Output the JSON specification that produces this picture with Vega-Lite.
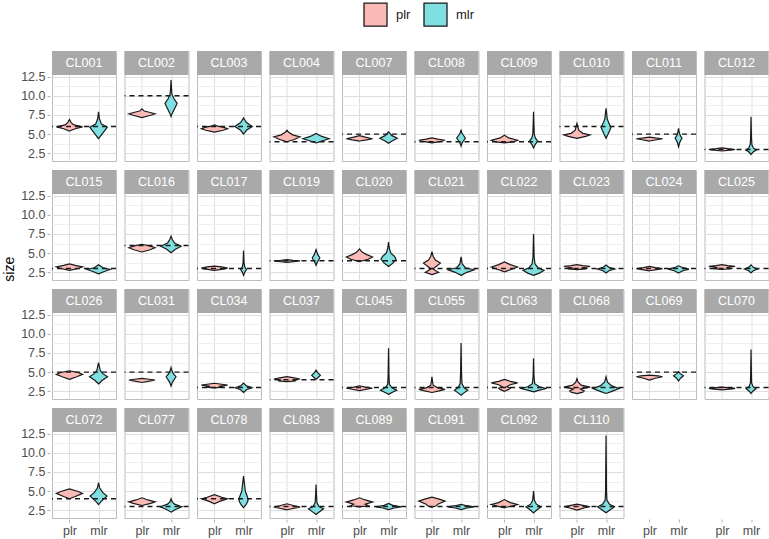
{
"$schema": "https://vega.github.io/schema/vega-lite/v6.json",
"padding": {"left": 2, "top": 2, "right": 0, "bottom": 2},
"title": {"text": "size", "orient": "left", "anchor": "middle", "fontSize": 14, "fontWeight": "normal", "color": "#000000", "font": "Liberation Sans", "offset": 4},
"data": {"values": [
{"c":"CL001","t":6},{"c":"CL002","t":10},{"c":"CL003","t":6},{"c":"CL004","t":4},{"c":"CL007","t":5},{"c":"CL008","t":4},{"c":"CL009","t":4},{"c":"CL010","t":6},{"c":"CL011","t":5},{"c":"CL012","t":3},
{"c":"CL015","t":3},{"c":"CL016","t":6},{"c":"CL017","t":3},{"c":"CL019","t":4},{"c":"CL020","t":4},{"c":"CL021","t":3},{"c":"CL022","t":3},{"c":"CL023","t":3},{"c":"CL024","t":3},{"c":"CL025","t":3},
{"c":"CL026","t":5},{"c":"CL031","t":5},{"c":"CL034","t":3},{"c":"CL037","t":4},{"c":"CL045","t":3},{"c":"CL055","t":3},{"c":"CL063","t":3},{"c":"CL068","t":3},{"c":"CL069","t":5},{"c":"CL070","t":3},
{"c":"CL072","t":4},{"c":"CL077","t":3},{"c":"CL078","t":4},{"c":"CL083","t":3},{"c":"CL089","t":3},{"c":"CL091","t":3},{"c":"CL092","t":3},{"c":"CL110","t":3},

{"c":"CL001","m":"plr","s":5.4,"w":0},{"c":"CL001","m":"plr","s":5.7,"w":0.2},{"c":"CL001","m":"plr","s":5.95,"w":0.45},{"c":"CL001","m":"plr","s":6.2,"w":0.15},{"c":"CL001","m":"plr","s":6.5,"w":0.06},{"c":"CL001","m":"plr","s":6.9,"w":0},{"c":"CL001","m":"plr","s":6.5,"w":-0.06},{"c":"CL001","m":"plr","s":6.2,"w":-0.15},{"c":"CL001","m":"plr","s":5.95,"w":-0.45},{"c":"CL001","m":"plr","s":5.7,"w":-0.2},
{"c":"CL001","m":"mlr","s":4.4,"w":0},{"c":"CL001","m":"mlr","s":5.0,"w":0.12},{"c":"CL001","m":"mlr","s":5.5,"w":0.22},{"c":"CL001","m":"mlr","s":5.9,"w":0.3},{"c":"CL001","m":"mlr","s":6.3,"w":0.1},{"c":"CL001","m":"mlr","s":7.0,"w":0.03},{"c":"CL001","m":"mlr","s":7.9,"w":0},{"c":"CL001","m":"mlr","s":7.0,"w":-0.03},{"c":"CL001","m":"mlr","s":6.3,"w":-0.1},{"c":"CL001","m":"mlr","s":5.9,"w":-0.3},{"c":"CL001","m":"mlr","s":5.5,"w":-0.22},{"c":"CL001","m":"mlr","s":5.0,"w":-0.12},

{"c":"CL002","m":"plr","s":7.15,"w":0},{"c":"CL002","m":"plr","s":7.45,"w":0.3},{"c":"CL002","m":"plr","s":7.65,"w":0.45},{"c":"CL002","m":"plr","s":7.85,"w":0.25},{"c":"CL002","m":"plr","s":8.0,"w":0.08},{"c":"CL002","m":"plr","s":8.3,"w":0},{"c":"CL002","m":"plr","s":8.0,"w":-0.08},{"c":"CL002","m":"plr","s":7.85,"w":-0.25},{"c":"CL002","m":"plr","s":7.65,"w":-0.45},{"c":"CL002","m":"plr","s":7.45,"w":-0.3},
{"c":"CL002","m":"mlr","s":7.3,"w":0},{"c":"CL002","m":"mlr","s":7.7,"w":0.04},{"c":"CL002","m":"mlr","s":8.3,"w":0.12},{"c":"CL002","m":"mlr","s":9.0,"w":0.21},{"c":"CL002","m":"mlr","s":9.6,"w":0.1},{"c":"CL002","m":"mlr","s":10.2,"w":0.03},{"c":"CL002","m":"mlr","s":11.0,"w":0.015},{"c":"CL002","m":"mlr","s":12.05,"w":0},{"c":"CL002","m":"mlr","s":11.0,"w":-0.015},{"c":"CL002","m":"mlr","s":10.2,"w":-0.03},{"c":"CL002","m":"mlr","s":9.6,"w":-0.1},{"c":"CL002","m":"mlr","s":9.0,"w":-0.21},{"c":"CL002","m":"mlr","s":8.3,"w":-0.12},{"c":"CL002","m":"mlr","s":7.7,"w":-0.04},

{"c":"CL003","m":"plr","s":5.25,"w":0},{"c":"CL003","m":"plr","s":5.5,"w":0.3},{"c":"CL003","m":"plr","s":5.7,"w":0.45},{"c":"CL003","m":"plr","s":5.9,"w":0.3},{"c":"CL003","m":"plr","s":6.05,"w":0.1},{"c":"CL003","m":"plr","s":6.2,"w":0},{"c":"CL003","m":"plr","s":6.05,"w":-0.1},{"c":"CL003","m":"plr","s":5.9,"w":-0.3},{"c":"CL003","m":"plr","s":5.7,"w":-0.45},{"c":"CL003","m":"plr","s":5.5,"w":-0.3},
{"c":"CL003","m":"mlr","s":5.0,"w":0},{"c":"CL003","m":"mlr","s":5.5,"w":0.1},{"c":"CL003","m":"mlr","s":6.0,"w":0.3},{"c":"CL003","m":"mlr","s":6.5,"w":0.1},{"c":"CL003","m":"mlr","s":7.1,"w":0},{"c":"CL003","m":"mlr","s":6.5,"w":-0.1},{"c":"CL003","m":"mlr","s":6.0,"w":-0.3},{"c":"CL003","m":"mlr","s":5.5,"w":-0.1},

{"c":"CL004","m":"plr","s":4.0,"w":0},{"c":"CL004","m":"plr","s":4.3,"w":0.25},{"c":"CL004","m":"plr","s":4.65,"w":0.45},{"c":"CL004","m":"plr","s":4.9,"w":0.2},{"c":"CL004","m":"plr","s":5.2,"w":0.07},{"c":"CL004","m":"plr","s":5.5,"w":0},{"c":"CL004","m":"plr","s":5.2,"w":-0.07},{"c":"CL004","m":"plr","s":4.9,"w":-0.2},{"c":"CL004","m":"plr","s":4.65,"w":-0.45},{"c":"CL004","m":"plr","s":4.3,"w":-0.25},
{"c":"CL004","m":"mlr","s":3.85,"w":0},{"c":"CL004","m":"mlr","s":4.1,"w":0.2},{"c":"CL004","m":"mlr","s":4.4,"w":0.45},{"c":"CL004","m":"mlr","s":4.7,"w":0.2},{"c":"CL004","m":"mlr","s":5.1,"w":0},{"c":"CL004","m":"mlr","s":4.7,"w":-0.2},{"c":"CL004","m":"mlr","s":4.4,"w":-0.45},{"c":"CL004","m":"mlr","s":4.1,"w":-0.2},

{"c":"CL007","m":"plr","s":4.1,"w":0},{"c":"CL007","m":"plr","s":4.25,"w":0.25},{"c":"CL007","m":"plr","s":4.4,"w":0.45},{"c":"CL007","m":"plr","s":4.6,"w":0.2},{"c":"CL007","m":"plr","s":4.8,"w":0},{"c":"CL007","m":"plr","s":4.6,"w":-0.2},{"c":"CL007","m":"plr","s":4.4,"w":-0.45},{"c":"CL007","m":"plr","s":4.25,"w":-0.25},
{"c":"CL007","m":"mlr","s":3.8,"w":0},{"c":"CL007","m":"mlr","s":4.1,"w":0.12},{"c":"CL007","m":"mlr","s":4.45,"w":0.3},{"c":"CL007","m":"mlr","s":4.8,"w":0.12},{"c":"CL007","m":"mlr","s":5.3,"w":0},{"c":"CL007","m":"mlr","s":4.8,"w":-0.12},{"c":"CL007","m":"mlr","s":4.45,"w":-0.3},{"c":"CL007","m":"mlr","s":4.1,"w":-0.12},

{"c":"CL008","m":"plr","s":3.85,"w":0},{"c":"CL008","m":"plr","s":4.05,"w":0.3},{"c":"CL008","m":"plr","s":4.2,"w":0.45},{"c":"CL008","m":"plr","s":4.35,"w":0.2},{"c":"CL008","m":"plr","s":4.5,"w":0},{"c":"CL008","m":"plr","s":4.35,"w":-0.2},{"c":"CL008","m":"plr","s":4.2,"w":-0.45},{"c":"CL008","m":"plr","s":4.05,"w":-0.3},
{"c":"CL008","m":"mlr","s":3.45,"w":0},{"c":"CL008","m":"mlr","s":3.9,"w":0.04},{"c":"CL008","m":"mlr","s":4.2,"w":0.1},{"c":"CL008","m":"mlr","s":4.5,"w":0.15},{"c":"CL008","m":"mlr","s":4.85,"w":0.08},{"c":"CL008","m":"mlr","s":5.2,"w":0.02},{"c":"CL008","m":"mlr","s":5.6,"w":0},{"c":"CL008","m":"mlr","s":5.2,"w":-0.02},{"c":"CL008","m":"mlr","s":4.85,"w":-0.08},{"c":"CL008","m":"mlr","s":4.5,"w":-0.15},{"c":"CL008","m":"mlr","s":4.2,"w":-0.1},{"c":"CL008","m":"mlr","s":3.9,"w":-0.04},

{"c":"CL009","m":"plr","s":3.85,"w":0},{"c":"CL009","m":"plr","s":4.0,"w":0.3},{"c":"CL009","m":"plr","s":4.2,"w":0.45},{"c":"CL009","m":"plr","s":4.5,"w":0.15},{"c":"CL009","m":"plr","s":4.85,"w":0},{"c":"CL009","m":"plr","s":4.5,"w":-0.15},{"c":"CL009","m":"plr","s":4.2,"w":-0.45},{"c":"CL009","m":"plr","s":4.0,"w":-0.3},
{"c":"CL009","m":"mlr","s":3.2,"w":0},{"c":"CL009","m":"mlr","s":3.6,"w":0.05},{"c":"CL009","m":"mlr","s":4.1,"w":0.14},{"c":"CL009","m":"mlr","s":4.5,"w":0.06},{"c":"CL009","m":"mlr","s":5.0,"w":0.025},{"c":"CL009","m":"mlr","s":6.0,"w":0.015},{"c":"CL009","m":"mlr","s":7.9,"w":0},{"c":"CL009","m":"mlr","s":6.0,"w":-0.015},{"c":"CL009","m":"mlr","s":5.0,"w":-0.025},{"c":"CL009","m":"mlr","s":4.5,"w":-0.06},{"c":"CL009","m":"mlr","s":4.1,"w":-0.14},{"c":"CL009","m":"mlr","s":3.6,"w":-0.05},

{"c":"CL010","m":"plr","s":4.45,"w":0},{"c":"CL010","m":"plr","s":4.7,"w":0.3},{"c":"CL010","m":"plr","s":4.9,"w":0.45},{"c":"CL010","m":"plr","s":5.1,"w":0.2},{"c":"CL010","m":"plr","s":5.5,"w":0.06},{"c":"CL010","m":"plr","s":6.0,"w":0.03},{"c":"CL010","m":"plr","s":6.4,"w":0},{"c":"CL010","m":"plr","s":6.0,"w":-0.03},{"c":"CL010","m":"plr","s":5.5,"w":-0.06},{"c":"CL010","m":"plr","s":5.1,"w":-0.2},{"c":"CL010","m":"plr","s":4.9,"w":-0.45},{"c":"CL010","m":"plr","s":4.7,"w":-0.3},
{"c":"CL010","m":"mlr","s":4.45,"w":0},{"c":"CL010","m":"mlr","s":5.0,"w":0.07},{"c":"CL010","m":"mlr","s":5.5,"w":0.13},{"c":"CL010","m":"mlr","s":5.9,"w":0.17},{"c":"CL010","m":"mlr","s":6.4,"w":0.1},{"c":"CL010","m":"mlr","s":7.0,"w":0.04},{"c":"CL010","m":"mlr","s":7.7,"w":0.02},{"c":"CL010","m":"mlr","s":8.35,"w":0},{"c":"CL010","m":"mlr","s":7.7,"w":-0.02},{"c":"CL010","m":"mlr","s":7.0,"w":-0.04},{"c":"CL010","m":"mlr","s":6.4,"w":-0.1},{"c":"CL010","m":"mlr","s":5.9,"w":-0.17},{"c":"CL010","m":"mlr","s":5.5,"w":-0.13},{"c":"CL010","m":"mlr","s":5.0,"w":-0.07},

{"c":"CL011","m":"plr","s":4.1,"w":0},{"c":"CL011","m":"plr","s":4.3,"w":0.3},{"c":"CL011","m":"plr","s":4.4,"w":0.45},{"c":"CL011","m":"plr","s":4.5,"w":0.2},{"c":"CL011","m":"plr","s":4.6,"w":0},{"c":"CL011","m":"plr","s":4.5,"w":-0.2},{"c":"CL011","m":"plr","s":4.4,"w":-0.45},{"c":"CL011","m":"plr","s":4.3,"w":-0.3},
{"c":"CL011","m":"mlr","s":3.35,"w":0},{"c":"CL011","m":"mlr","s":3.9,"w":0.04},{"c":"CL011","m":"mlr","s":4.3,"w":0.09},{"c":"CL011","m":"mlr","s":4.5,"w":0.12},{"c":"CL011","m":"mlr","s":4.8,"w":0.06},{"c":"CL011","m":"mlr","s":5.3,"w":0.02},{"c":"CL011","m":"mlr","s":5.75,"w":0},{"c":"CL011","m":"mlr","s":5.3,"w":-0.02},{"c":"CL011","m":"mlr","s":4.8,"w":-0.06},{"c":"CL011","m":"mlr","s":4.5,"w":-0.12},{"c":"CL011","m":"mlr","s":4.3,"w":-0.09},{"c":"CL011","m":"mlr","s":3.9,"w":-0.04},

{"c":"CL012","m":"plr","s":2.8,"w":0},{"c":"CL012","m":"plr","s":2.95,"w":0.35},{"c":"CL012","m":"plr","s":3.0,"w":0.45},{"c":"CL012","m":"plr","s":3.1,"w":0.2},{"c":"CL012","m":"plr","s":3.22,"w":0},{"c":"CL012","m":"plr","s":3.1,"w":-0.2},{"c":"CL012","m":"plr","s":3.0,"w":-0.45},{"c":"CL012","m":"plr","s":2.95,"w":-0.35},
{"c":"CL012","m":"mlr","s":2.35,"w":0},{"c":"CL012","m":"mlr","s":2.7,"w":0.08},{"c":"CL012","m":"mlr","s":2.92,"w":0.18},{"c":"CL012","m":"mlr","s":3.2,"w":0.08},{"c":"CL012","m":"mlr","s":3.6,"w":0.03},{"c":"CL012","m":"mlr","s":4.5,"w":0.015},{"c":"CL012","m":"mlr","s":7.25,"w":0},{"c":"CL012","m":"mlr","s":4.5,"w":-0.015},{"c":"CL012","m":"mlr","s":3.6,"w":-0.03},{"c":"CL012","m":"mlr","s":3.2,"w":-0.08},{"c":"CL012","m":"mlr","s":2.92,"w":-0.18},{"c":"CL012","m":"mlr","s":2.7,"w":-0.08},

{"c":"CL015","m":"plr","s":2.75,"w":0},{"c":"CL015","m":"plr","s":3.0,"w":0.3},{"c":"CL015","m":"plr","s":3.2,"w":0.45},{"c":"CL015","m":"plr","s":3.4,"w":0.2},{"c":"CL015","m":"plr","s":3.6,"w":0},{"c":"CL015","m":"plr","s":3.4,"w":-0.2},{"c":"CL015","m":"plr","s":3.2,"w":-0.45},{"c":"CL015","m":"plr","s":3.0,"w":-0.3},
{"c":"CL015","m":"mlr","s":2.3,"w":0},{"c":"CL015","m":"mlr","s":2.6,"w":0.2},{"c":"CL015","m":"mlr","s":2.87,"w":0.4},{"c":"CL015","m":"mlr","s":3.1,"w":0.15},{"c":"CL015","m":"mlr","s":3.5,"w":0},{"c":"CL015","m":"mlr","s":3.1,"w":-0.15},{"c":"CL015","m":"mlr","s":2.87,"w":-0.4},{"c":"CL015","m":"mlr","s":2.6,"w":-0.2},

{"c":"CL016","m":"plr","s":5.15,"w":0},{"c":"CL016","m":"plr","s":5.4,"w":0.25},{"c":"CL016","m":"plr","s":5.7,"w":0.45},{"c":"CL016","m":"plr","s":5.9,"w":0.3},{"c":"CL016","m":"plr","s":6.15,"w":0},{"c":"CL016","m":"plr","s":5.9,"w":-0.3},{"c":"CL016","m":"plr","s":5.7,"w":-0.45},{"c":"CL016","m":"plr","s":5.4,"w":-0.25},
{"c":"CL016","m":"mlr","s":5.05,"w":0},{"c":"CL016","m":"mlr","s":5.5,"w":0.15},{"c":"CL016","m":"mlr","s":5.9,"w":0.35},{"c":"CL016","m":"mlr","s":6.3,"w":0.12},{"c":"CL016","m":"mlr","s":6.8,"w":0.04},{"c":"CL016","m":"mlr","s":7.2,"w":0},{"c":"CL016","m":"mlr","s":6.8,"w":-0.04},{"c":"CL016","m":"mlr","s":6.3,"w":-0.12},{"c":"CL016","m":"mlr","s":5.9,"w":-0.35},{"c":"CL016","m":"mlr","s":5.5,"w":-0.15},

{"c":"CL017","m":"plr","s":2.75,"w":0},{"c":"CL017","m":"plr","s":2.95,"w":0.35},{"c":"CL017","m":"plr","s":3.05,"w":0.45},{"c":"CL017","m":"plr","s":3.2,"w":0.25},{"c":"CL017","m":"plr","s":3.3,"w":0},{"c":"CL017","m":"plr","s":3.2,"w":-0.25},{"c":"CL017","m":"plr","s":3.05,"w":-0.45},{"c":"CL017","m":"plr","s":2.95,"w":-0.35},
{"c":"CL017","m":"mlr","s":2.1,"w":0},{"c":"CL017","m":"mlr","s":2.5,"w":0.04},{"c":"CL017","m":"mlr","s":2.87,"w":0.1},{"c":"CL017","m":"mlr","s":3.2,"w":0.04},{"c":"CL017","m":"mlr","s":3.8,"w":0.015},{"c":"CL017","m":"mlr","s":5.35,"w":0},{"c":"CL017","m":"mlr","s":3.8,"w":-0.015},{"c":"CL017","m":"mlr","s":3.2,"w":-0.04},{"c":"CL017","m":"mlr","s":2.87,"w":-0.1},{"c":"CL017","m":"mlr","s":2.5,"w":-0.04},

{"c":"CL019","m":"plr","s":3.8,"w":0},{"c":"CL019","m":"plr","s":3.92,"w":0.3},{"c":"CL019","m":"plr","s":3.98,"w":0.45},{"c":"CL019","m":"plr","s":4.05,"w":0.2},{"c":"CL019","m":"plr","s":4.15,"w":0},{"c":"CL019","m":"plr","s":4.05,"w":-0.2},{"c":"CL019","m":"plr","s":3.98,"w":-0.45},{"c":"CL019","m":"plr","s":3.92,"w":-0.3},
{"c":"CL019","m":"mlr","s":3.4,"w":0},{"c":"CL019","m":"mlr","s":3.8,"w":0.04},{"c":"CL019","m":"mlr","s":4.1,"w":0.09},{"c":"CL019","m":"mlr","s":4.4,"w":0.13},{"c":"CL019","m":"mlr","s":4.8,"w":0.06},{"c":"CL019","m":"mlr","s":5.45,"w":0},{"c":"CL019","m":"mlr","s":4.8,"w":-0.06},{"c":"CL019","m":"mlr","s":4.4,"w":-0.13},{"c":"CL019","m":"mlr","s":4.1,"w":-0.09},{"c":"CL019","m":"mlr","s":3.8,"w":-0.04},

{"c":"CL020","m":"plr","s":3.9,"w":0},{"c":"CL020","m":"plr","s":4.2,"w":0.3},{"c":"CL020","m":"plr","s":4.5,"w":0.45},{"c":"CL020","m":"plr","s":4.8,"w":0.25},{"c":"CL020","m":"plr","s":5.1,"w":0.1},{"c":"CL020","m":"plr","s":5.55,"w":0},{"c":"CL020","m":"plr","s":5.1,"w":-0.1},{"c":"CL020","m":"plr","s":4.8,"w":-0.25},{"c":"CL020","m":"plr","s":4.5,"w":-0.45},{"c":"CL020","m":"plr","s":4.2,"w":-0.3},
{"c":"CL020","m":"mlr","s":3.25,"w":0},{"c":"CL020","m":"mlr","s":3.7,"w":0.15},{"c":"CL020","m":"mlr","s":4.2,"w":0.26},{"c":"CL020","m":"mlr","s":4.6,"w":0.2},{"c":"CL020","m":"mlr","s":5.0,"w":0.08},{"c":"CL020","m":"mlr","s":5.6,"w":0.03},{"c":"CL020","m":"mlr","s":6.45,"w":0},{"c":"CL020","m":"mlr","s":5.6,"w":-0.03},{"c":"CL020","m":"mlr","s":5.0,"w":-0.08},{"c":"CL020","m":"mlr","s":4.6,"w":-0.2},{"c":"CL020","m":"mlr","s":4.2,"w":-0.26},{"c":"CL020","m":"mlr","s":3.7,"w":-0.15},

{"c":"CL021","m":"plr","s":2.2,"w":0},{"c":"CL021","m":"plr","s":2.5,"w":0.23},{"c":"CL021","m":"plr","s":2.75,"w":0.12},{"c":"CL021","m":"plr","s":2.95,"w":0.04},{"c":"CL021","m":"plr","s":3.2,"w":0.12},{"c":"CL021","m":"plr","s":3.7,"w":0.29},{"c":"CL021","m":"plr","s":4.1,"w":0.12},{"c":"CL021","m":"plr","s":4.6,"w":0.04},{"c":"CL021","m":"plr","s":5.2,"w":0},{"c":"CL021","m":"plr","s":4.6,"w":-0.04},{"c":"CL021","m":"plr","s":4.1,"w":-0.12},{"c":"CL021","m":"plr","s":3.7,"w":-0.29},{"c":"CL021","m":"plr","s":3.2,"w":-0.12},{"c":"CL021","m":"plr","s":2.95,"w":-0.04},{"c":"CL021","m":"plr","s":2.75,"w":-0.12},{"c":"CL021","m":"plr","s":2.5,"w":-0.23},
{"c":"CL021","m":"mlr","s":2.1,"w":0},{"c":"CL021","m":"mlr","s":2.5,"w":0.2},{"c":"CL021","m":"mlr","s":2.83,"w":0.45},{"c":"CL021","m":"mlr","s":3.1,"w":0.15},{"c":"CL021","m":"mlr","s":3.6,"w":0.04},{"c":"CL021","m":"mlr","s":4.5,"w":0},{"c":"CL021","m":"mlr","s":3.6,"w":-0.04},{"c":"CL021","m":"mlr","s":3.1,"w":-0.15},{"c":"CL021","m":"mlr","s":2.83,"w":-0.45},{"c":"CL021","m":"mlr","s":2.5,"w":-0.2},

{"c":"CL022","m":"plr","s":2.55,"w":0},{"c":"CL022","m":"plr","s":2.9,"w":0.25},{"c":"CL022","m":"plr","s":3.2,"w":0.45},{"c":"CL022","m":"plr","s":3.5,"w":0.2},{"c":"CL022","m":"plr","s":3.85,"w":0},{"c":"CL022","m":"plr","s":3.5,"w":-0.2},{"c":"CL022","m":"plr","s":3.2,"w":-0.45},{"c":"CL022","m":"plr","s":2.9,"w":-0.25},
{"c":"CL022","m":"mlr","s":2.1,"w":0},{"c":"CL022","m":"mlr","s":2.4,"w":0.2},{"c":"CL022","m":"mlr","s":2.75,"w":0.36},{"c":"CL022","m":"mlr","s":3.1,"w":0.15},{"c":"CL022","m":"mlr","s":3.6,"w":0.05},{"c":"CL022","m":"mlr","s":4.5,"w":0.02},{"c":"CL022","m":"mlr","s":7.5,"w":0},{"c":"CL022","m":"mlr","s":4.5,"w":-0.02},{"c":"CL022","m":"mlr","s":3.6,"w":-0.05},{"c":"CL022","m":"mlr","s":3.1,"w":-0.15},{"c":"CL022","m":"mlr","s":2.75,"w":-0.36},{"c":"CL022","m":"mlr","s":2.4,"w":-0.2},

{"c":"CL023","m":"plr","s":2.85,"w":0},{"c":"CL023","m":"plr","s":2.95,"w":0.3},{"c":"CL023","m":"plr","s":3.05,"w":0.15},{"c":"CL023","m":"plr","s":3.2,"w":0.35},{"c":"CL023","m":"plr","s":3.28,"w":0.45},{"c":"CL023","m":"plr","s":3.38,"w":0.2},{"c":"CL023","m":"plr","s":3.5,"w":0},{"c":"CL023","m":"plr","s":3.38,"w":-0.2},{"c":"CL023","m":"plr","s":3.28,"w":-0.45},{"c":"CL023","m":"plr","s":3.2,"w":-0.35},{"c":"CL023","m":"plr","s":3.05,"w":-0.15},{"c":"CL023","m":"plr","s":2.95,"w":-0.3},
{"c":"CL023","m":"mlr","s":2.4,"w":0},{"c":"CL023","m":"mlr","s":2.7,"w":0.1},{"c":"CL023","m":"mlr","s":2.92,"w":0.3},{"c":"CL023","m":"mlr","s":3.15,"w":0.1},{"c":"CL023","m":"mlr","s":3.45,"w":0},{"c":"CL023","m":"mlr","s":3.15,"w":-0.1},{"c":"CL023","m":"mlr","s":2.92,"w":-0.3},{"c":"CL023","m":"mlr","s":2.7,"w":-0.1},

{"c":"CL024","m":"plr","s":2.7,"w":0},{"c":"CL024","m":"plr","s":2.88,"w":0.3},{"c":"CL024","m":"plr","s":2.98,"w":0.45},{"c":"CL024","m":"plr","s":3.1,"w":0.2},{"c":"CL024","m":"plr","s":3.27,"w":0},{"c":"CL024","m":"plr","s":3.1,"w":-0.2},{"c":"CL024","m":"plr","s":2.98,"w":-0.45},{"c":"CL024","m":"plr","s":2.88,"w":-0.3},
{"c":"CL024","m":"mlr","s":2.4,"w":0},{"c":"CL024","m":"mlr","s":2.7,"w":0.15},{"c":"CL024","m":"mlr","s":2.92,"w":0.36},{"c":"CL024","m":"mlr","s":3.1,"w":0.15},{"c":"CL024","m":"mlr","s":3.35,"w":0},{"c":"CL024","m":"mlr","s":3.1,"w":-0.15},{"c":"CL024","m":"mlr","s":2.92,"w":-0.36},{"c":"CL024","m":"mlr","s":2.7,"w":-0.15},

{"c":"CL025","m":"plr","s":2.87,"w":0},{"c":"CL025","m":"plr","s":2.97,"w":0.3},{"c":"CL025","m":"plr","s":3.07,"w":0.15},{"c":"CL025","m":"plr","s":3.2,"w":0.3},{"c":"CL025","m":"plr","s":3.27,"w":0.45},{"c":"CL025","m":"plr","s":3.37,"w":0.2},{"c":"CL025","m":"plr","s":3.5,"w":0},{"c":"CL025","m":"plr","s":3.37,"w":-0.2},{"c":"CL025","m":"plr","s":3.27,"w":-0.45},{"c":"CL025","m":"plr","s":3.2,"w":-0.3},{"c":"CL025","m":"plr","s":3.07,"w":-0.15},{"c":"CL025","m":"plr","s":2.97,"w":-0.3},
{"c":"CL025","m":"mlr","s":2.43,"w":0},{"c":"CL025","m":"mlr","s":2.7,"w":0.08},{"c":"CL025","m":"mlr","s":2.92,"w":0.23},{"c":"CL025","m":"mlr","s":3.15,"w":0.08},{"c":"CL025","m":"mlr","s":3.48,"w":0},{"c":"CL025","m":"mlr","s":3.15,"w":-0.08},{"c":"CL025","m":"mlr","s":2.92,"w":-0.23},{"c":"CL025","m":"mlr","s":2.7,"w":-0.08},

{"c":"CL026","m":"plr","s":4.05,"w":0},{"c":"CL026","m":"plr","s":4.4,"w":0.25},{"c":"CL026","m":"plr","s":4.7,"w":0.45},{"c":"CL026","m":"plr","s":4.95,"w":0.3},{"c":"CL026","m":"plr","s":5.15,"w":0},{"c":"CL026","m":"plr","s":4.95,"w":-0.3},{"c":"CL026","m":"plr","s":4.7,"w":-0.45},{"c":"CL026","m":"plr","s":4.4,"w":-0.25},
{"c":"CL026","m":"mlr","s":3.45,"w":0},{"c":"CL026","m":"mlr","s":3.9,"w":0.12},{"c":"CL026","m":"mlr","s":4.4,"w":0.31},{"c":"CL026","m":"mlr","s":4.8,"w":0.15},{"c":"CL026","m":"mlr","s":5.2,"w":0.06},{"c":"CL026","m":"mlr","s":5.7,"w":0.03},{"c":"CL026","m":"mlr","s":6.25,"w":0},{"c":"CL026","m":"mlr","s":5.7,"w":-0.03},{"c":"CL026","m":"mlr","s":5.2,"w":-0.06},{"c":"CL026","m":"mlr","s":4.8,"w":-0.15},{"c":"CL026","m":"mlr","s":4.4,"w":-0.31},{"c":"CL026","m":"mlr","s":3.9,"w":-0.12},

{"c":"CL031","m":"plr","s":3.65,"w":0},{"c":"CL031","m":"plr","s":3.85,"w":0.3},{"c":"CL031","m":"plr","s":3.97,"w":0.45},{"c":"CL031","m":"plr","s":4.07,"w":0.25},{"c":"CL031","m":"plr","s":4.18,"w":0},{"c":"CL031","m":"plr","s":4.07,"w":-0.25},{"c":"CL031","m":"plr","s":3.97,"w":-0.45},{"c":"CL031","m":"plr","s":3.85,"w":-0.3},
{"c":"CL031","m":"mlr","s":3.2,"w":0},{"c":"CL031","m":"mlr","s":3.7,"w":0.05},{"c":"CL031","m":"mlr","s":4.1,"w":0.12},{"c":"CL031","m":"mlr","s":4.4,"w":0.17},{"c":"CL031","m":"mlr","s":4.8,"w":0.08},{"c":"CL031","m":"mlr","s":5.2,"w":0.03},{"c":"CL031","m":"mlr","s":5.6,"w":0},{"c":"CL031","m":"mlr","s":5.2,"w":-0.03},{"c":"CL031","m":"mlr","s":4.8,"w":-0.08},{"c":"CL031","m":"mlr","s":4.4,"w":-0.17},{"c":"CL031","m":"mlr","s":4.1,"w":-0.12},{"c":"CL031","m":"mlr","s":3.7,"w":-0.05},

{"c":"CL034","m":"plr","s":2.95,"w":0},{"c":"CL034","m":"plr","s":3.05,"w":0.3},{"c":"CL034","m":"plr","s":3.15,"w":0.15},{"c":"CL034","m":"plr","s":3.3,"w":0.45},{"c":"CL034","m":"plr","s":3.42,"w":0.25},{"c":"CL034","m":"plr","s":3.55,"w":0},{"c":"CL034","m":"plr","s":3.42,"w":-0.25},{"c":"CL034","m":"plr","s":3.3,"w":-0.45},{"c":"CL034","m":"plr","s":3.15,"w":-0.15},{"c":"CL034","m":"plr","s":3.05,"w":-0.3},
{"c":"CL034","m":"mlr","s":2.35,"w":0},{"c":"CL034","m":"mlr","s":2.7,"w":0.1},{"c":"CL034","m":"mlr","s":2.97,"w":0.29},{"c":"CL034","m":"mlr","s":3.2,"w":0.1},{"c":"CL034","m":"mlr","s":3.57,"w":0},{"c":"CL034","m":"mlr","s":3.2,"w":-0.1},{"c":"CL034","m":"mlr","s":2.97,"w":-0.29},{"c":"CL034","m":"mlr","s":2.7,"w":-0.1},

{"c":"CL037","m":"plr","s":3.75,"w":0},{"c":"CL037","m":"plr","s":3.85,"w":0.3},{"c":"CL037","m":"plr","s":3.95,"w":0.2},{"c":"CL037","m":"plr","s":4.1,"w":0.45},{"c":"CL037","m":"plr","s":4.25,"w":0.25},{"c":"CL037","m":"plr","s":4.4,"w":0},{"c":"CL037","m":"plr","s":4.25,"w":-0.25},{"c":"CL037","m":"plr","s":4.1,"w":-0.45},{"c":"CL037","m":"plr","s":3.95,"w":-0.2},{"c":"CL037","m":"plr","s":3.85,"w":-0.3},
{"c":"CL037","m":"mlr","s":4.05,"w":0},{"c":"CL037","m":"mlr","s":4.3,"w":0.07},{"c":"CL037","m":"mlr","s":4.58,"w":0.15},{"c":"CL037","m":"mlr","s":4.9,"w":0.06},{"c":"CL037","m":"mlr","s":5.25,"w":0},{"c":"CL037","m":"mlr","s":4.9,"w":-0.06},{"c":"CL037","m":"mlr","s":4.58,"w":-0.15},{"c":"CL037","m":"mlr","s":4.3,"w":-0.07},

{"c":"CL045","m":"plr","s":2.6,"w":0},{"c":"CL045","m":"plr","s":2.8,"w":0.3},{"c":"CL045","m":"plr","s":2.9,"w":0.45},{"c":"CL045","m":"plr","s":3.05,"w":0.2},{"c":"CL045","m":"plr","s":3.22,"w":0},{"c":"CL045","m":"plr","s":3.05,"w":-0.2},{"c":"CL045","m":"plr","s":2.9,"w":-0.45},{"c":"CL045","m":"plr","s":2.8,"w":-0.3},
{"c":"CL045","m":"mlr","s":2.1,"w":0},{"c":"CL045","m":"mlr","s":2.4,"w":0.15},{"c":"CL045","m":"mlr","s":2.65,"w":0.28},{"c":"CL045","m":"mlr","s":2.95,"w":0.12},{"c":"CL045","m":"mlr","s":3.4,"w":0.03},{"c":"CL045","m":"mlr","s":4.5,"w":0.015},{"c":"CL045","m":"mlr","s":8.1,"w":0},{"c":"CL045","m":"mlr","s":4.5,"w":-0.015},{"c":"CL045","m":"mlr","s":3.4,"w":-0.03},{"c":"CL045","m":"mlr","s":2.95,"w":-0.12},{"c":"CL045","m":"mlr","s":2.65,"w":-0.28},{"c":"CL045","m":"mlr","s":2.4,"w":-0.15},

{"c":"CL055","m":"plr","s":2.35,"w":0},{"c":"CL055","m":"plr","s":2.55,"w":0.25},{"c":"CL055","m":"plr","s":2.75,"w":0.45},{"c":"CL055","m":"plr","s":2.95,"w":0.2},{"c":"CL055","m":"plr","s":3.3,"w":0.04},{"c":"CL055","m":"plr","s":3.8,"w":0.02},{"c":"CL055","m":"plr","s":4.4,"w":0},{"c":"CL055","m":"plr","s":3.8,"w":-0.02},{"c":"CL055","m":"plr","s":3.3,"w":-0.04},{"c":"CL055","m":"plr","s":2.95,"w":-0.2},{"c":"CL055","m":"plr","s":2.75,"w":-0.45},{"c":"CL055","m":"plr","s":2.55,"w":-0.25},
{"c":"CL055","m":"mlr","s":2.0,"w":0},{"c":"CL055","m":"mlr","s":2.3,"w":0.1},{"c":"CL055","m":"mlr","s":2.65,"w":0.23},{"c":"CL055","m":"mlr","s":3.0,"w":0.1},{"c":"CL055","m":"mlr","s":3.5,"w":0.03},{"c":"CL055","m":"mlr","s":5.0,"w":0.015},{"c":"CL055","m":"mlr","s":8.8,"w":0},{"c":"CL055","m":"mlr","s":5.0,"w":-0.015},{"c":"CL055","m":"mlr","s":3.5,"w":-0.03},{"c":"CL055","m":"mlr","s":3.0,"w":-0.1},{"c":"CL055","m":"mlr","s":2.65,"w":-0.23},{"c":"CL055","m":"mlr","s":2.3,"w":-0.1},

{"c":"CL063","m":"plr","s":2.5,"w":0},{"c":"CL063","m":"plr","s":2.75,"w":0.15},{"c":"CL063","m":"plr","s":2.9,"w":0.2},{"c":"CL063","m":"plr","s":3.1,"w":0.08},{"c":"CL063","m":"plr","s":3.35,"w":0.2},{"c":"CL063","m":"plr","s":3.6,"w":0.45},{"c":"CL063","m":"plr","s":3.8,"w":0.2},{"c":"CL063","m":"plr","s":4.05,"w":0},{"c":"CL063","m":"plr","s":3.8,"w":-0.2},{"c":"CL063","m":"plr","s":3.6,"w":-0.45},{"c":"CL063","m":"plr","s":3.35,"w":-0.2},{"c":"CL063","m":"plr","s":3.1,"w":-0.08},{"c":"CL063","m":"plr","s":2.9,"w":-0.2},{"c":"CL063","m":"plr","s":2.75,"w":-0.15},
{"c":"CL063","m":"mlr","s":2.43,"w":0},{"c":"CL063","m":"mlr","s":2.65,"w":0.2},{"c":"CL063","m":"mlr","s":2.87,"w":0.45},{"c":"CL063","m":"mlr","s":3.1,"w":0.2},{"c":"CL063","m":"mlr","s":3.5,"w":0.04},{"c":"CL063","m":"mlr","s":4.5,"w":0.015},{"c":"CL063","m":"mlr","s":6.8,"w":0},{"c":"CL063","m":"mlr","s":4.5,"w":-0.015},{"c":"CL063","m":"mlr","s":3.5,"w":-0.04},{"c":"CL063","m":"mlr","s":3.1,"w":-0.2},{"c":"CL063","m":"mlr","s":2.87,"w":-0.45},{"c":"CL063","m":"mlr","s":2.65,"w":-0.2},

{"c":"CL068","m":"plr","s":2.2,"w":0},{"c":"CL068","m":"plr","s":2.4,"w":0.2},{"c":"CL068","m":"plr","s":2.55,"w":0.25},{"c":"CL068","m":"plr","s":2.8,"w":0.12},{"c":"CL068","m":"plr","s":3.05,"w":0.45},{"c":"CL068","m":"plr","s":3.3,"w":0.15},{"c":"CL068","m":"plr","s":3.7,"w":0.04},{"c":"CL068","m":"plr","s":4.15,"w":0},{"c":"CL068","m":"plr","s":3.7,"w":-0.04},{"c":"CL068","m":"plr","s":3.3,"w":-0.15},{"c":"CL068","m":"plr","s":3.05,"w":-0.45},{"c":"CL068","m":"plr","s":2.8,"w":-0.12},{"c":"CL068","m":"plr","s":2.55,"w":-0.25},{"c":"CL068","m":"plr","s":2.4,"w":-0.2},
{"c":"CL068","m":"mlr","s":2.22,"w":0},{"c":"CL068","m":"mlr","s":2.5,"w":0.2},{"c":"CL068","m":"mlr","s":2.87,"w":0.45},{"c":"CL068","m":"mlr","s":3.2,"w":0.2},{"c":"CL068","m":"mlr","s":3.7,"w":0.05},{"c":"CL068","m":"mlr","s":4.4,"w":0},{"c":"CL068","m":"mlr","s":3.7,"w":-0.05},{"c":"CL068","m":"mlr","s":3.2,"w":-0.2},{"c":"CL068","m":"mlr","s":2.87,"w":-0.45},{"c":"CL068","m":"mlr","s":2.5,"w":-0.2},

{"c":"CL069","m":"plr","s":3.95,"w":0},{"c":"CL069","m":"plr","s":4.2,"w":0.2},{"c":"CL069","m":"plr","s":4.4,"w":0.45},{"c":"CL069","m":"plr","s":4.5,"w":0.3},{"c":"CL069","m":"plr","s":4.6,"w":0},{"c":"CL069","m":"plr","s":4.5,"w":-0.3},{"c":"CL069","m":"plr","s":4.4,"w":-0.45},{"c":"CL069","m":"plr","s":4.2,"w":-0.2},
{"c":"CL069","m":"mlr","s":3.85,"w":0},{"c":"CL069","m":"mlr","s":4.2,"w":0.07},{"c":"CL069","m":"mlr","s":4.52,"w":0.17},{"c":"CL069","m":"mlr","s":4.8,"w":0.06},{"c":"CL069","m":"mlr","s":5.05,"w":0},{"c":"CL069","m":"mlr","s":4.8,"w":-0.06},{"c":"CL069","m":"mlr","s":4.52,"w":-0.17},{"c":"CL069","m":"mlr","s":4.2,"w":-0.07},

{"c":"CL070","m":"plr","s":2.7,"w":0},{"c":"CL070","m":"plr","s":2.82,"w":0.35},{"c":"CL070","m":"plr","s":2.88,"w":0.45},{"c":"CL070","m":"plr","s":2.95,"w":0.3},{"c":"CL070","m":"plr","s":3.05,"w":0},{"c":"CL070","m":"plr","s":2.95,"w":-0.3},{"c":"CL070","m":"plr","s":2.88,"w":-0.45},{"c":"CL070","m":"plr","s":2.82,"w":-0.35},
{"c":"CL070","m":"mlr","s":2.22,"w":0},{"c":"CL070","m":"mlr","s":2.55,"w":0.07},{"c":"CL070","m":"mlr","s":2.83,"w":0.17},{"c":"CL070","m":"mlr","s":3.1,"w":0.07},{"c":"CL070","m":"mlr","s":3.6,"w":0.02},{"c":"CL070","m":"mlr","s":5.0,"w":0.012},{"c":"CL070","m":"mlr","s":7.95,"w":0},{"c":"CL070","m":"mlr","s":5.0,"w":-0.012},{"c":"CL070","m":"mlr","s":3.6,"w":-0.02},{"c":"CL070","m":"mlr","s":3.1,"w":-0.07},{"c":"CL070","m":"mlr","s":2.83,"w":-0.17},{"c":"CL070","m":"mlr","s":2.55,"w":-0.07},

{"c":"CL072","m":"plr","s":4.0,"w":0},{"c":"CL072","m":"plr","s":4.3,"w":0.2},{"c":"CL072","m":"plr","s":4.7,"w":0.45},{"c":"CL072","m":"plr","s":4.95,"w":0.3},{"c":"CL072","m":"plr","s":5.3,"w":0},{"c":"CL072","m":"plr","s":4.95,"w":-0.3},{"c":"CL072","m":"plr","s":4.7,"w":-0.45},{"c":"CL072","m":"plr","s":4.3,"w":-0.2},
{"c":"CL072","m":"mlr","s":3.25,"w":0},{"c":"CL072","m":"mlr","s":3.7,"w":0.1},{"c":"CL072","m":"mlr","s":4.1,"w":0.22},{"c":"CL072","m":"mlr","s":4.35,"w":0.29},{"c":"CL072","m":"mlr","s":4.8,"w":0.15},{"c":"CL072","m":"mlr","s":5.4,"w":0.04},{"c":"CL072","m":"mlr","s":6.1,"w":0},{"c":"CL072","m":"mlr","s":5.4,"w":-0.04},{"c":"CL072","m":"mlr","s":4.8,"w":-0.15},{"c":"CL072","m":"mlr","s":4.35,"w":-0.29},{"c":"CL072","m":"mlr","s":4.1,"w":-0.22},{"c":"CL072","m":"mlr","s":3.7,"w":-0.1},

{"c":"CL077","m":"plr","s":3.13,"w":0},{"c":"CL077","m":"plr","s":3.4,"w":0.3},{"c":"CL077","m":"plr","s":3.6,"w":0.45},{"c":"CL077","m":"plr","s":3.85,"w":0.2},{"c":"CL077","m":"plr","s":4.13,"w":0},{"c":"CL077","m":"plr","s":3.85,"w":-0.2},{"c":"CL077","m":"plr","s":3.6,"w":-0.45},{"c":"CL077","m":"plr","s":3.4,"w":-0.3},
{"c":"CL077","m":"mlr","s":2.26,"w":0},{"c":"CL077","m":"mlr","s":2.6,"w":0.15},{"c":"CL077","m":"mlr","s":2.96,"w":0.37},{"c":"CL077","m":"mlr","s":3.3,"w":0.12},{"c":"CL077","m":"mlr","s":3.6,"w":0.04},{"c":"CL077","m":"mlr","s":4.0,"w":0},{"c":"CL077","m":"mlr","s":3.6,"w":-0.04},{"c":"CL077","m":"mlr","s":3.3,"w":-0.12},{"c":"CL077","m":"mlr","s":2.96,"w":-0.37},{"c":"CL077","m":"mlr","s":2.6,"w":-0.15},

{"c":"CL078","m":"plr","s":3.35,"w":0},{"c":"CL078","m":"plr","s":3.7,"w":0.2},{"c":"CL078","m":"plr","s":4.0,"w":0.45},{"c":"CL078","m":"plr","s":4.2,"w":0.25},{"c":"CL078","m":"plr","s":4.55,"w":0},{"c":"CL078","m":"plr","s":4.2,"w":-0.25},{"c":"CL078","m":"plr","s":4.0,"w":-0.45},{"c":"CL078","m":"plr","s":3.7,"w":-0.2},
{"c":"CL078","m":"mlr","s":2.85,"w":0},{"c":"CL078","m":"mlr","s":3.2,"w":0.08},{"c":"CL078","m":"mlr","s":3.6,"w":0.14},{"c":"CL078","m":"mlr","s":3.95,"w":0.16},{"c":"CL078","m":"mlr","s":4.4,"w":0.12},{"c":"CL078","m":"mlr","s":5.0,"w":0.06},{"c":"CL078","m":"mlr","s":6.0,"w":0.03},{"c":"CL078","m":"mlr","s":6.95,"w":0},{"c":"CL078","m":"mlr","s":6.0,"w":-0.03},{"c":"CL078","m":"mlr","s":5.0,"w":-0.06},{"c":"CL078","m":"mlr","s":4.4,"w":-0.12},{"c":"CL078","m":"mlr","s":3.95,"w":-0.16},{"c":"CL078","m":"mlr","s":3.6,"w":-0.14},{"c":"CL078","m":"mlr","s":3.2,"w":-0.08},

{"c":"CL083","m":"plr","s":2.57,"w":0},{"c":"CL083","m":"plr","s":2.8,"w":0.3},{"c":"CL083","m":"plr","s":2.92,"w":0.45},{"c":"CL083","m":"plr","s":3.1,"w":0.25},{"c":"CL083","m":"plr","s":3.35,"w":0},{"c":"CL083","m":"plr","s":3.1,"w":-0.25},{"c":"CL083","m":"plr","s":2.92,"w":-0.45},{"c":"CL083","m":"plr","s":2.8,"w":-0.3},
{"c":"CL083","m":"mlr","s":1.96,"w":0},{"c":"CL083","m":"mlr","s":2.3,"w":0.12},{"c":"CL083","m":"mlr","s":2.7,"w":0.26},{"c":"CL083","m":"mlr","s":3.0,"w":0.1},{"c":"CL083","m":"mlr","s":3.5,"w":0.03},{"c":"CL083","m":"mlr","s":4.5,"w":0.015},{"c":"CL083","m":"mlr","s":5.85,"w":0},{"c":"CL083","m":"mlr","s":4.5,"w":-0.015},{"c":"CL083","m":"mlr","s":3.5,"w":-0.03},{"c":"CL083","m":"mlr","s":3.0,"w":-0.1},{"c":"CL083","m":"mlr","s":2.7,"w":-0.26},{"c":"CL083","m":"mlr","s":2.3,"w":-0.12},

{"c":"CL089","m":"plr","s":2.95,"w":0},{"c":"CL089","m":"plr","s":3.1,"w":0.3},{"c":"CL089","m":"plr","s":3.3,"w":0.2},{"c":"CL089","m":"plr","s":3.57,"w":0.45},{"c":"CL089","m":"plr","s":3.85,"w":0.2},{"c":"CL089","m":"plr","s":4.13,"w":0},{"c":"CL089","m":"plr","s":3.85,"w":-0.2},{"c":"CL089","m":"plr","s":3.57,"w":-0.45},{"c":"CL089","m":"plr","s":3.3,"w":-0.2},{"c":"CL089","m":"plr","s":3.1,"w":-0.3},
{"c":"CL089","m":"mlr","s":2.6,"w":0},{"c":"CL089","m":"mlr","s":2.8,"w":0.2},{"c":"CL089","m":"mlr","s":2.96,"w":0.43},{"c":"CL089","m":"mlr","s":3.15,"w":0.15},{"c":"CL089","m":"mlr","s":3.4,"w":0},{"c":"CL089","m":"mlr","s":3.15,"w":-0.15},{"c":"CL089","m":"mlr","s":2.96,"w":-0.43},{"c":"CL089","m":"mlr","s":2.8,"w":-0.2},

{"c":"CL091","m":"plr","s":2.9,"w":0},{"c":"CL091","m":"plr","s":3.1,"w":0.15},{"c":"CL091","m":"plr","s":3.3,"w":0.2},{"c":"CL091","m":"plr","s":3.7,"w":0.45},{"c":"CL091","m":"plr","s":3.95,"w":0.25},{"c":"CL091","m":"plr","s":4.22,"w":0},{"c":"CL091","m":"plr","s":3.95,"w":-0.25},{"c":"CL091","m":"plr","s":3.7,"w":-0.45},{"c":"CL091","m":"plr","s":3.3,"w":-0.2},{"c":"CL091","m":"plr","s":3.1,"w":-0.15},
{"c":"CL091","m":"mlr","s":2.6,"w":0},{"c":"CL091","m":"mlr","s":2.8,"w":0.2},{"c":"CL091","m":"mlr","s":2.96,"w":0.45},{"c":"CL091","m":"mlr","s":3.1,"w":0.2},{"c":"CL091","m":"mlr","s":3.28,"w":0},{"c":"CL091","m":"mlr","s":3.1,"w":-0.2},{"c":"CL091","m":"mlr","s":2.96,"w":-0.45},{"c":"CL091","m":"mlr","s":2.8,"w":-0.2},

{"c":"CL092","m":"plr","s":2.83,"w":0},{"c":"CL092","m":"plr","s":3.05,"w":0.25},{"c":"CL092","m":"plr","s":3.26,"w":0.45},{"c":"CL092","m":"plr","s":3.5,"w":0.2},{"c":"CL092","m":"plr","s":3.9,"w":0},{"c":"CL092","m":"plr","s":3.5,"w":-0.2},{"c":"CL092","m":"plr","s":3.26,"w":-0.45},{"c":"CL092","m":"plr","s":3.05,"w":-0.25},
{"c":"CL092","m":"mlr","s":2.17,"w":0},{"c":"CL092","m":"mlr","s":2.5,"w":0.1},{"c":"CL092","m":"mlr","s":2.96,"w":0.26},{"c":"CL092","m":"mlr","s":3.3,"w":0.1},{"c":"CL092","m":"mlr","s":3.8,"w":0.03},{"c":"CL092","m":"mlr","s":5.0,"w":0},{"c":"CL092","m":"mlr","s":3.8,"w":-0.03},{"c":"CL092","m":"mlr","s":3.3,"w":-0.1},{"c":"CL092","m":"mlr","s":2.96,"w":-0.26},{"c":"CL092","m":"mlr","s":2.5,"w":-0.1},

{"c":"CL110","m":"plr","s":2.52,"w":0},{"c":"CL110","m":"plr","s":2.8,"w":0.25},{"c":"CL110","m":"plr","s":2.96,"w":0.45},{"c":"CL110","m":"plr","s":3.1,"w":0.25},{"c":"CL110","m":"plr","s":3.3,"w":0},{"c":"CL110","m":"plr","s":3.1,"w":-0.25},{"c":"CL110","m":"plr","s":2.96,"w":-0.45},{"c":"CL110","m":"plr","s":2.8,"w":-0.25},
{"c":"CL110","m":"mlr","s":2.17,"w":0},{"c":"CL110","m":"mlr","s":2.5,"w":0.12},{"c":"CL110","m":"mlr","s":2.96,"w":0.29},{"c":"CL110","m":"mlr","s":3.3,"w":0.12},{"c":"CL110","m":"mlr","s":3.8,"w":0.03},{"c":"CL110","m":"mlr","s":5.0,"w":0.015},{"c":"CL110","m":"mlr","s":8.0,"w":0.01},{"c":"CL110","m":"mlr","s":12.25,"w":0},{"c":"CL110","m":"mlr","s":8.0,"w":-0.01},{"c":"CL110","m":"mlr","s":5.0,"w":-0.015},{"c":"CL110","m":"mlr","s":3.8,"w":-0.03},{"c":"CL110","m":"mlr","s":3.3,"w":-0.12},{"c":"CL110","m":"mlr","s":2.96,"w":-0.29},{"c":"CL110","m":"mlr","s":2.5,"w":-0.12}
]},
"facet": {"field": "c", "type": "nominal", "header": {"title": null, "labels": false, "labelExpr": "''", "labelFontSize": 0, "labelPadding": 0}},
"columns": 10,
"spacing": {"row": 7, "column": 4.5},
"spec": {
  "width": 64,
  "height": 110,
  "layer": [
    {
      "transform": [{"filter": "isValid(datum.t)"}],
      "mark": {"type": "rect", "fill": "#A9A9A9"},
      "encoding": {
        "y": {"datum": 12.69, "type": "quantitative"},
        "y2": {"datum": 15.82}
      }
    },
    {
      "transform": [{"filter": "isValid(datum.t)"}],
      "mark": {"type": "text", "color": "#FFFFFF", "fontSize": 12.5, "font": "Liberation Sans", "baseline": "middle", "align": "center"},
      "encoding": {
        "y": {"datum": 14.25, "type": "quantitative"},
        "text": {"field": "c", "type": "nominal"}
      }
    },
    {
      "transform": [{"filter": "datum.m === 'plr'"}],
      "mark": {"type": "line", "interpolate": "linear-closed", "stroke": "#1a1a1a", "strokeWidth": 1.2},
      "encoding": {
        "x": {"field": "w", "type": "quantitative", "title": null,
              "scale": {"domain": [-0.6, 1.6], "nice": false, "zero": false},
              "axis": {"values": [0, 1], "tickCount": 10, "labelExpr": "datum.value < 0.5 ? 'plr' : 'mlr'", "grid": true, "gridColor": "#DEDEDE", "tickColor": "#B3B3B3", "tickSize": 3, "labelColor": "#4D4D4D", "labelFontSize": 12.5, "labelPadding": 2, "domain": false, "labelFlush": false, "labelOverlap": false}},
        "y": {"field": "s", "type": "quantitative", "title": null,
              "scale": {"domain": [1.5, 15.82], "nice": false, "zero": false},
              "axis": {"values": [2.5, 3.75, 5, 6.25, 7.5, 8.75, 10, 11.25, 12.5], "tickCount": 20,
                       "labelExpr": "datum.value % 2.5 === 0 ? format(datum.value, '.1f') : ''",
                       "labelOverlap": false,
                       "grid": true,
                       "gridColor": {"condition": {"test": "datum.value % 2.5 !== 0", "value": "#EFEFEF"}, "value": "#DEDEDE"},
                       "tickOpacity": {"condition": {"test": "datum.value % 2.5 !== 0", "value": 0}, "value": 1},
                       "tickColor": "#B3B3B3", "tickSize": 3, "labelColor": "#4D4D4D", "labelFontSize": 12.5, "labelPadding": 2, "domain": false, "labelFlush": false}},
        "fill": {"field": "m", "type": "nominal",
                 "scale": {"domain": ["plr", "mlr"], "range": ["#FBBAB6", "#80DFE1"]},
                 "legend": {"title": null, "orient": "none", "legendX": 311, "legendY": -49, "direction": "horizontal", "symbolType": "square", "symbolSize": 529, "symbolStrokeColor": "#333333", "symbolStrokeWidth": 1.3, "symbolOpacity": 1, "labelFontSize": 13, "labelColor": "#1a1a1a", "labelFont": "Liberation Sans", "columnPadding": 10, "labelOffset": 8}},
        "order": {"value": null}
      }
    },
    {
      "transform": [{"filter": "datum.m === 'mlr'"}],
      "mark": {"type": "line", "interpolate": "linear-closed", "stroke": "#1a1a1a", "strokeWidth": 1.2, "xOffset": 29.09},
      "encoding": {
        "x": {"field": "w", "type": "quantitative"},
        "y": {"field": "s", "type": "quantitative"},
        "fill": {"field": "m", "type": "nominal"},
        "order": {"value": null}
      }
    },
    {
      "transform": [{"filter": "isValid(datum.t)"}],
      "mark": {"type": "rule", "strokeDash": [5, 4], "strokeWidth": 1.4, "color": "#1a1a1a"},
      "encoding": {
        "y": {"field": "t", "type": "quantitative"}
      }
    }
  ]
},
"config": {
  "font": "Liberation Sans",
  "view": {"stroke": "#BDBDBD", "strokeWidth": 1},
  "header": {"labels": false, "title": null, "labelFontSize": 0, "labelPadding": 0}
}
}
